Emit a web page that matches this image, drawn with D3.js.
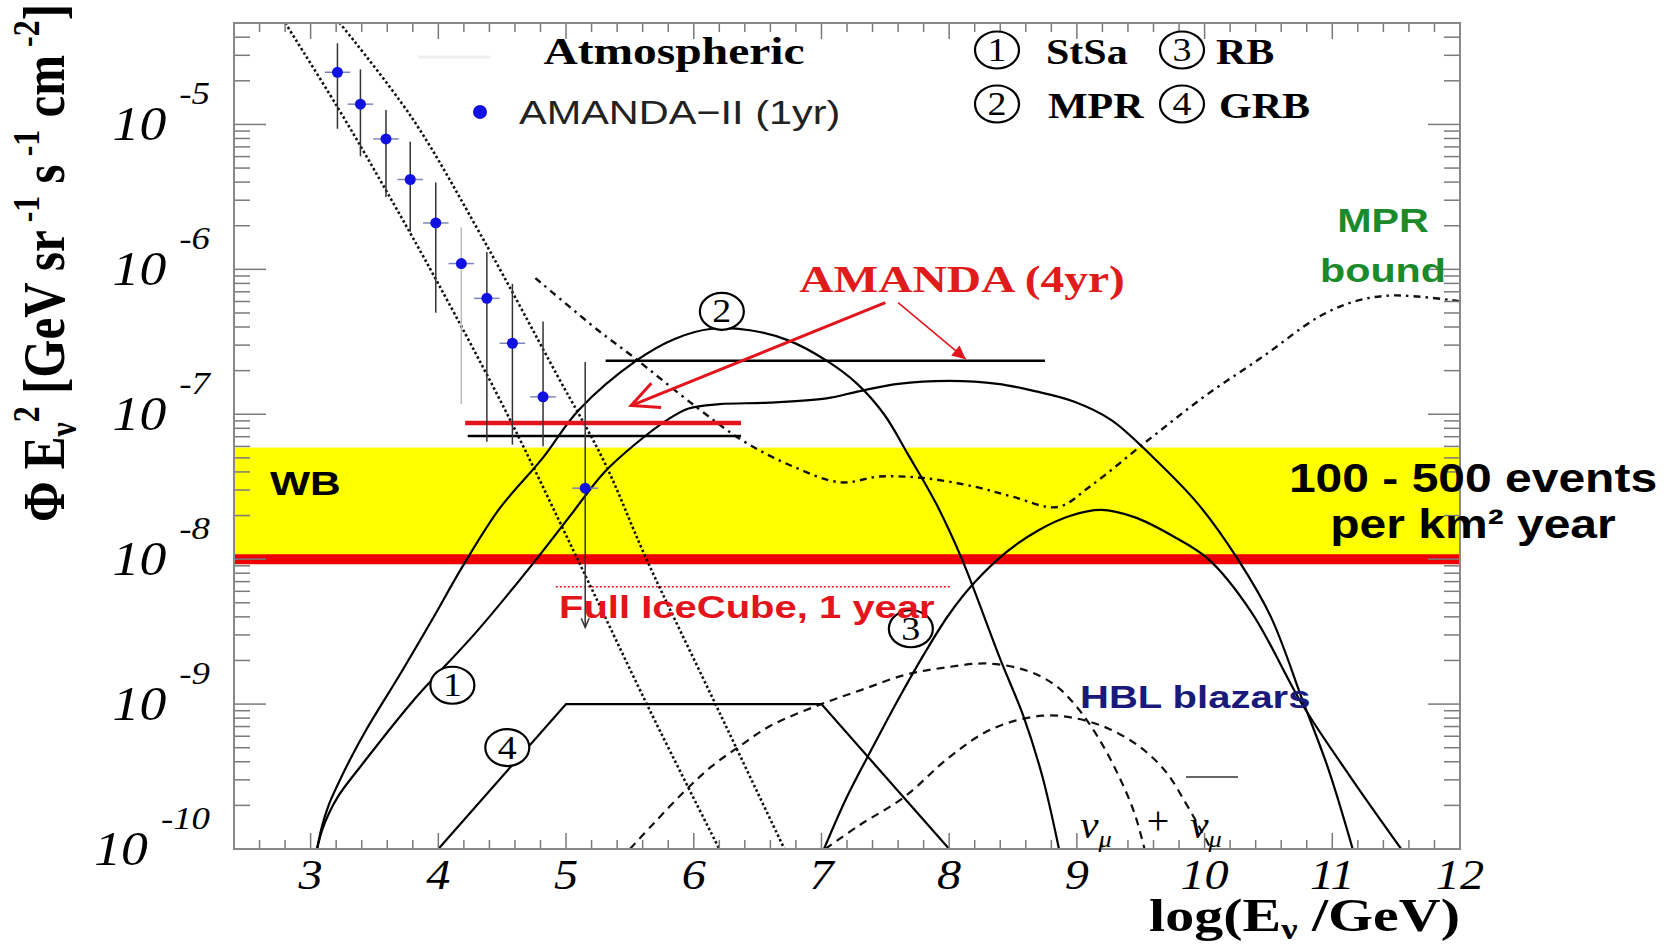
<!DOCTYPE html>
<html>
<head>
<meta charset="utf-8">
<script src="https://cdn.jsdelivr.net/npm/d3@7/dist/d3.min.js"></script>
<style>
  body { margin: 0; background: #fff; }
  svg { display: block; }
</style>
</head>
<body>
<div id="graph"></div>
<script>
"use strict";

const width = 1677,
      height = 944;

const frame = { left: 234, right: 1460, top: 23, bottom: 849 };

const SERIF = "'Liberation Serif', 'Times New Roman', serif";
const SANS = "'Liberation Sans', Arial, sans-serif";

// x = log10(E / GeV), y = log10 of the flux
const xDomain = [2.4, 12];
const yDomain = [-10, -4.3];
const xTicks = [3, 4, 5, 6, 7, 8, 9, 10, 11, 12];
const yTicks = [-5, -6, -7, -8, -9, -10];

// AMANDA-II (1yr) atmospheric points, with error bar ends
const amandaE = [3.21, 3.39, 3.59, 3.78, 3.98, 4.18, 4.38, 4.58, 4.82, 5.15];
const amandaF = [-4.64, -4.86, -5.10, -5.38, -5.68, -5.96, -6.20, -6.51, -6.88, -7.51];
const amandaHi = [-4.44, -4.62, -4.90, -5.12, -5.40, -5.71, -5.88, -6.10, -6.36, -6.64];
const amandaLo = [-5.03, -5.22, -5.50, -5.74, -6.30, -6.93, -7.19, -7.21, -7.22, -8.47];
const amandaBin = 0.1;

// atmospheric band (dotted)
const atmLow = [[2.78, -4.27], [3.21, -4.88], [3.60, -5.47], [4.0, -6.1], [4.54, -7.0], [5.09, -8.0], [5.66, -9.05], [6.2, -10]];
const atmHigh = [[3.20, -4.27], [3.79, -4.95], [4.35, -5.79], [4.93, -6.73], [5.30, -7.33], [5.63, -8.0], [6.17, -9.0], [6.71, -10]];

// model curves
const stsa = [[3.05, -10], [3.09, -9.87], [3.14, -9.76], [3.22, -9.63], [3.4, -9.42], [3.8, -8.98], [4.3, -8.5],
  [4.75, -8.02], [5.05, -7.68], [5.3, -7.4], [5.55, -7.2], [5.79, -7.04], [5.96, -6.96], [6.2, -6.93],
  [6.59, -6.92], [7.04, -6.89], [7.3, -6.84], [7.6, -6.79], [8.0, -6.77], [8.38, -6.79], [8.67, -6.84],
  [8.97, -6.91], [9.27, -7.04], [9.6, -7.3], [9.95, -7.62], [10.26, -8.0], [10.52, -8.4], [10.77, -8.98],
  [10.97, -9.45], [11.16, -10]];
const mpr = [[3.05, -10], [3.09, -9.84], [3.14, -9.7], [3.21, -9.56], [3.31, -9.38], [3.44, -9.17], [3.71, -8.78],
  [3.95, -8.42], [4.19, -8.05], [4.48, -7.65], [4.81, -7.31], [5.1, -6.97], [5.55, -6.63], [5.85, -6.48],
  [6.14, -6.41], [6.44, -6.42], [6.74, -6.49], [7.04, -6.63], [7.28, -6.79], [7.49, -7.0], [7.68, -7.28],
  [7.9, -7.62], [8.1, -8.0], [8.4, -8.69], [8.58, -9.08], [8.73, -9.5], [8.86, -10]];
const rb = [[7.02, -10], [7.2, -9.64], [7.4, -9.3], [7.6, -8.97], [7.8, -8.66], [8.0, -8.38], [8.2, -8.16],
  [8.45, -7.95], [8.7, -7.8], [8.95, -7.7], [9.19, -7.66], [9.45, -7.71], [9.75, -7.84], [10.03, -8.0],
  [10.37, -8.37], [10.77, -9.01], [11.14, -9.5], [11.54, -10]];
const grb = [[4, -10], [5, -9], [7, -9], [8, -10]];
const hblUpper = [[5.5, -10], [5.69, -9.82], [5.93, -9.6], [6.14, -9.43], [6.36, -9.29], [6.6, -9.15], [7.0, -9.0],
  [7.32, -8.9], [7.65, -8.8], [7.95, -8.75], [8.3, -8.72], [8.61, -8.77], [8.83, -8.87], [9.0, -9.02],
  [9.18, -9.25], [9.33, -9.5], [9.45, -9.75], [9.53, -10]];
const hblLower = [[7.03, -10], [7.29, -9.84], [7.65, -9.64], [8.01, -9.36], [8.34, -9.17], [8.73, -9.08],
  [9.0, -9.1], [9.25, -9.17], [9.5, -9.3], [9.7, -9.47], [9.85, -9.68], [9.96, -9.85], [10.05, -10]];
const mprBound = [[4.76, -6.06], [5.25, -6.42], [5.52, -6.6], [6.02, -6.95], [6.38, -7.18], [6.75, -7.35],
  [7.15, -7.47], [7.45, -7.43], [7.8, -7.44], [8.2, -7.5], [8.5, -7.57], [8.85, -7.64], [9.1, -7.5],
  [9.57, -7.17], [10.01, -6.87], [10.46, -6.6], [10.89, -6.33], [11.18, -6.22], [11.48, -6.18], [12.0, -6.22]];

// limits and bands: [xStart, xEnd, level]
const wbBand = [-8, -7.23];
const amanda4yrBlack = [[5.31, 8.75, -6.63], [4.23, 6.37, -7.15]];
const amanda4yrRed = [4.21, 6.37, -7.06];
const iceCube1yr = [4.92, 8.02, -8.19];

// annotation anchors in data units
const curveLabels = [["1", 4.11, -8.87], ["2", 6.22, -6.29], ["3", 7.70, -8.48], ["4", 4.54, -9.30]];
const arrowBig = [[7.50, -6.23], [5.51, -6.94]];
const arrowSmall = [[7.60, -6.23], [8.13, -6.62]];

let svg = d3.select("#graph").append("svg")
  .attr("width", width)
  .attr("height", height)
  .style("background", "#fff");

let x = d3.scaleLinear().domain(xDomain).range([frame.left, frame.right]);
let yLog = d3.scaleLog()
  .domain(yDomain.map(v => Math.pow(10, v)))
  .range([frame.bottom, frame.top]);
let y = v => yLog(Math.pow(10, v));

svg.append("clipPath").attr("id", "plotclip")
  .append("rect")
  .attr("x", frame.left).attr("y", frame.top)
  .attr("width", frame.right - frame.left)
  .attr("height", frame.bottom - frame.top);

let plot = svg.append("g").attr("clip-path", "url(#plotclip)");

function txt(parent, s, px, py, o) {
  return parent.append("text")
    .attr("transform", "translate(" + px + "," + py + ") scale(" + (o.sx || 1) + ",1)")
    .attr("text-anchor", o.anchor || "start")
    .style("font-family", o.family || SERIF)
    .style("font-size", o.size + "px")
    .style("font-weight", o.weight || "normal")
    .style("font-style", o.style || "normal")
    .attr("fill", o.color || "#000")
    .text(s);
}

function circled(parent, d, cx, cy) {
  parent.append("ellipse")
    .attr("cx", cx).attr("cy", cy)
    .attr("rx", 22).attr("ry", 18.5)
    .attr("fill", "#fff").attr("stroke", "#000").attr("stroke-width", 2.2);
  txt(parent, d, cx, cy + 11, { size: 33, sx: 1.15, anchor: "middle" });
}

// yellow band and red line at its bottom
plot.append("rect")
  .attr("x", frame.left).attr("width", frame.right - frame.left)
  .attr("y", y(wbBand[1])).attr("height", y(wbBand[0]) - y(wbBand[1]))
  .attr("fill", "#ffff00");
plot.append("line")
  .attr("x1", frame.left).attr("x2", frame.right)
  .attr("y1", y(wbBand[0])).attr("y2", y(wbBand[0]))
  .attr("stroke", "#ee0000").attr("stroke-width", 10);

// full IceCube dotted
plot.append("line")
  .attr("x1", x(iceCube1yr[0])).attr("x2", x(iceCube1yr[1]))
  .attr("y1", y(iceCube1yr[2])).attr("y2", y(iceCube1yr[2]))
  .attr("stroke", "#e3141c").attr("stroke-width", 1.5)
  .attr("stroke-dasharray", "2,2");

let smooth = d3.line()
  .x(d => x(d[0]))
  .y(d => y(d[1]))
  .curve(d3.curveCatmullRom.alpha(0.5));
let straight = d3.line()
  .x(d => x(d[0]))
  .y(d => y(d[1]));

// atmospheric band
[atmLow, atmHigh].forEach(c => {
  plot.append("path").attr("d", smooth(c))
    .attr("fill", "none").attr("stroke", "#111").attr("stroke-width", 2.6)
    .attr("stroke-dasharray", "2.5,2.5");
});

// HBL blazars
[hblUpper, hblLower].forEach(c => {
  plot.append("path").attr("d", smooth(c))
    .attr("fill", "none").attr("stroke", "#111").attr("stroke-width", 2.2)
    .attr("stroke-dasharray", "8,6");
});

// MPR bound
plot.append("path").attr("d", smooth(mprBound))
  .attr("fill", "none").attr("stroke", "#111").attr("stroke-width", 2.4)
  .attr("stroke-dasharray", "7,5,2.5,5");

// models
[stsa, mpr, rb].forEach(c => {
  plot.append("path").attr("d", smooth(c))
    .attr("fill", "none").attr("stroke", "#000").attr("stroke-width", 2.2);
});
plot.append("path").attr("d", straight(grb))
  .attr("fill", "none").attr("stroke", "#000").attr("stroke-width", 2.2);

// AMANDA 4yr limits
amanda4yrBlack.forEach(l => {
  plot.append("line")
    .attr("x1", x(l[0])).attr("x2", x(l[1]))
    .attr("y1", y(l[2])).attr("y2", y(l[2]))
    .attr("stroke", "#000").attr("stroke-width", 2.5);
});
plot.append("line")
  .attr("x1", x(amanda4yrRed[0])).attr("x2", x(amanda4yrRed[1]))
  .attr("y1", y(amanda4yrRed[2])).attr("y2", y(amanda4yrRed[2]))
  .attr("stroke", "#e3141c").attr("stroke-width", 4.5);

// AMANDA-II points
let pts = plot.append("g");
amandaE.forEach((e, i) => {
  pts.append("line")
    .attr("x1", x(e)).attr("x2", x(e))
    .attr("y1", y(amandaHi[i])).attr("y2", y(amandaLo[i]))
    .attr("stroke", i === 5 ? "#bbb" : "#333").attr("stroke-width", 1.5);
  pts.append("line")
    .attr("x1", x(e - amandaBin)).attr("x2", x(e + amandaBin))
    .attr("y1", y(amandaF[i])).attr("y2", y(amandaF[i]))
    .attr("stroke", "#7d86b8").attr("stroke-width", 1.5);
  pts.append("circle")
    .attr("cx", x(e)).attr("cy", y(amandaF[i])).attr("r", 5.5)
    .attr("fill", "#1010e0");
});
// last one is an upper limit
let lastE = amandaE[amandaE.length - 1], lastLo = amandaLo[amandaLo.length - 1];
pts.append("path")
  .attr("d", "M" + (x(lastE) - 4) + "," + (y(lastLo) - 9) + "L" + x(lastE) + "," + y(lastLo) +
    "L" + (x(lastE) + 4) + "," + (y(lastLo) - 9))
  .attr("fill", "none").attr("stroke", "#333").attr("stroke-width", 1.5);

// red arrows
function arrow(a, b, w, headLen, filled) {
  let x1 = x(a[0]), y1 = y(a[1]), x2 = x(b[0]), y2 = y(b[1]);
  let ang = Math.atan2(y2 - y1, x2 - x1);
  let h1 = [x2 - headLen * Math.cos(ang - 0.45), y2 - headLen * Math.sin(ang - 0.45)];
  let h2 = [x2 - headLen * Math.cos(ang + 0.45), y2 - headLen * Math.sin(ang + 0.45)];
  svg.append("line").attr("x1", x1).attr("y1", y1).attr("x2", x2).attr("y2", y2)
    .attr("stroke", "#e3141c").attr("stroke-width", w);
  if (filled) {
    svg.append("path").attr("d", "M" + h1 + "L" + x2 + "," + y2 + "L" + h2 + "Z")
      .attr("fill", "#e3141c");
  } else {
    svg.append("path").attr("d", "M" + h1 + "L" + x2 + "," + y2 + "L" + h2)
      .attr("fill", "none").attr("stroke", "#e3141c").attr("stroke-width", w);
  }
}
arrow(arrowBig[0], arrowBig[1], 3, 30, false);
arrow(arrowSmall[0], arrowSmall[1], 1.5, 15, true);

// frame and ticks
let ax = svg.append("g").attr("stroke", "#7a7a7a").attr("stroke-width", 1.5);
d3.range(12, 61).map(i => i / 5).forEach(v => {
  let major = Math.abs(v - Math.round(v)) < 1e-6;
  let len = major ? 16 : 9;
  ax.append("line").attr("x1", x(v)).attr("x2", x(v))
    .attr("y1", frame.bottom).attr("y2", frame.bottom - len);
  ax.append("line").attr("x1", x(v)).attr("x2", x(v))
    .attr("y1", frame.top).attr("y2", frame.top + len);
});
for (let e = -10; e < -4; e++) {
  for (let m = 1; m < 10; m++) {
    let v = e + Math.log10(m);
    if (v > yDomain[1]) continue;
    let len = m === 1 ? 32 : 16;
    ax.append("line").attr("x1", frame.left).attr("x2", frame.left + len)
      .attr("y1", y(v)).attr("y2", y(v));
    ax.append("line").attr("x1", frame.right).attr("x2", frame.right - len)
      .attr("y1", y(v)).attr("y2", y(v));
  }
}
svg.append("rect")
  .attr("x", frame.left).attr("y", frame.top)
  .attr("width", frame.right - frame.left).attr("height", frame.bottom - frame.top)
  .attr("fill", "none").attr("stroke", "#888").attr("stroke-width", 2);

// tick labels
let labels = svg.append("g");
xTicks.forEach(t => {
  txt(labels, t, x(t), 889, { size: 42, style: "italic", sx: 1.15, anchor: "middle" });
});
yTicks.forEach(t => {
  let ty = y(t);
  let sup = txt(labels, String(t), 210, ty - 20, { size: 32, style: "italic", sx: 1.15, anchor: "end" });
  let w = sup.node().getComputedTextLength() * 1.15;
  txt(labels, "10", 210 - w - 13, ty + 16, { size: 48, style: "italic", sx: 1.12, anchor: "end" });
});

// axis titles
let xt = svg.append("text")
  .attr("transform", "translate(" + frame.right + ",931) scale(1.26,1)")
  .attr("text-anchor", "end")
  .style("font-family", SERIF).style("font-weight", "bold").style("font-size", "46px");
xt.append("tspan").text("log(E");
xt.append("tspan").text("ν").style("font-size", "29px").attr("dy", 8);
xt.append("tspan").text(" /GeV)").attr("dy", -8);

let yt = svg.append("text")
  .attr("transform", "translate(64,263) rotate(-90) scale(1,1.2)")
  .attr("text-anchor", "middle")
  .style("font-family", SERIF).style("font-weight", "bold").style("font-size", "49px");
yt.append("tspan").text("Φ E");
yt.append("tspan").text("ν").style("font-size", "32px").attr("dy", 10);
yt.append("tspan").text("2").style("font-size", "32px").attr("dy", -31);
yt.append("tspan").text(" [GeV sr").attr("dy", 21);
yt.append("tspan").text(" -1").style("font-size", "32px").attr("dy", -21);
yt.append("tspan").text(" s").attr("dy", 21);
yt.append("tspan").text(" -1").style("font-size", "32px").attr("dy", -21);
yt.append("tspan").text(" cm").attr("dy", 21);
yt.append("tspan").text(" -2").style("font-size", "32px").attr("dy", -21);
yt.append("tspan").text("]").attr("dy", 21);

// legend
let leg = svg.append("g");
leg.append("line").attr("x1", 418).attr("x2", 490).attr("y1", 57).attr("y2", 57)
  .attr("stroke", "#efefef").attr("stroke-width", 3);
txt(leg, "Atmospheric", 674, 64, { size: 38, weight: "bold", sx: 1.25, anchor: "middle" });
leg.append("circle").attr("cx", 480).attr("cy", 112).attr("r", 7).attr("fill", "#1010e0");
txt(leg, "AMANDA−II (1yr)", 519, 124, { size: 34, family: SANS, sx: 1.22, color: "#222" });
circled(leg, "1", 997, 50);
circled(leg, "2", 997, 104);
circled(leg, "3", 1182, 50);
circled(leg, "4", 1182, 104);
txt(leg, "StSa", 1046, 64, { size: 35, weight: "bold", sx: 1.2 });
txt(leg, "RB", 1216, 64, { size: 35, weight: "bold", sx: 1.2 });
txt(leg, "MPR", 1048, 118, { size: 35, weight: "bold", sx: 1.2 });
txt(leg, "GRB", 1219, 118, { size: 35, weight: "bold", sx: 1.2 });

// in-plot annotations
let ann = svg.append("g");
curveLabels.forEach(c => circled(ann, c[0], x(c[1]), y(c[2])));
txt(ann, "AMANDA (4yr)", 962, 292, { size: 38, weight: "bold", sx: 1.25, anchor: "middle", color: "#e01b1b" });
txt(ann, "MPR", 1383, 232, { size: 33, weight: "bold", family: SANS, sx: 1.25, anchor: "middle", color: "#1b8a2a" });
txt(ann, "bound", 1383, 282, { size: 33, weight: "bold", family: SANS, sx: 1.25, anchor: "middle", color: "#1b8a2a" });
txt(ann, "WB", 270, 495, { size: 34, weight: "bold", family: SANS, sx: 1.25 });
txt(ann, "100 - 500 events", 1473, 492, { size: 40, weight: "bold", family: SANS, sx: 1.2, anchor: "middle" });
txt(ann, "per km² year", 1473, 538, { size: 40, weight: "bold", family: SANS, sx: 1.2, anchor: "middle" });
txt(ann, "Full IceCube, 1 year", 559, 618, { size: 32, weight: "bold", family: SANS, sx: 1.25, color: "#e3141c" });
txt(ann, "HBL blazars", 1080, 708, { size: 32, weight: "bold", family: SANS, sx: 1.25, color: "#1a1a7a" });

// nu_mu + anti-nu_mu
function nuMu(px) {
  let t = svg.append("text")
    .attr("transform", "translate(" + px + ",838) scale(1.1,1)")
    .style("font-family", SERIF).style("font-style", "italic").style("font-size", "38px");
  t.append("tspan").text("ν");
  t.append("tspan").text("μ").style("font-size", "24px").attr("dy", 9);
}
nuMu(1080);
txt(svg, "+", 1158, 834, { size: 40, anchor: "middle" });
nuMu(1190);
svg.append("line").attr("x1", 1186).attr("x2", 1238).attr("y1", 777).attr("y2", 777)
  .attr("stroke", "#333").attr("stroke-width", 1.5);
</script>
</body>
</html>
